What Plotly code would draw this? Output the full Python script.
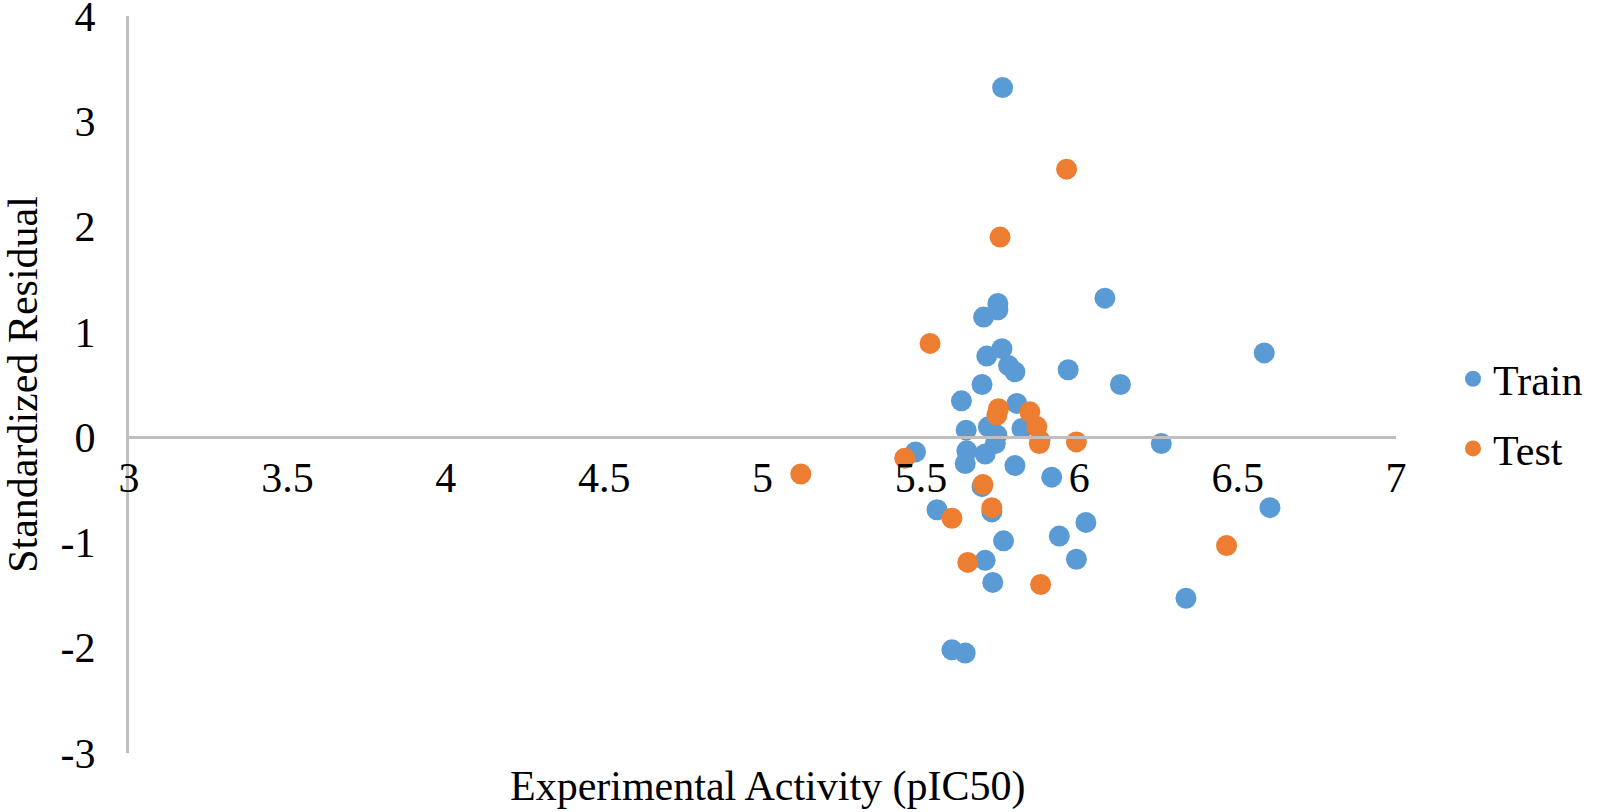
import plotly.graph_objects as go

train_x = [5.758, 6.081, 5.743, 5.743, 5.698, 5.756, 5.708, 5.777, 5.797, 5.965,
           6.130, 6.584, 5.693, 5.628, 5.803, 5.643, 5.713, 5.740, 5.819, 6.259,
           5.483, 5.645, 5.703, 5.735, 5.640, 5.797, 5.913, 5.693, 5.724, 5.551,
           6.021, 5.937, 5.761, 5.703, 5.991, 5.727, 6.337, 5.598, 5.640, 6.602]
train_y = [3.32, 1.32, 1.27, 1.21, 1.14, 0.84, 0.77, 0.68, 0.62, 0.64,
           0.50, 0.80, 0.50, 0.345, 0.32, 0.066, 0.098, 0.02, 0.082, -0.06,
           -0.14, -0.13, -0.16, -0.06, -0.25, -0.27, -0.38, -0.47, -0.71, -0.69,
           -0.81, -0.94, -0.985, -1.17, -1.16, -1.38, -1.53, -2.02, -2.05, -0.67]

test_x = [5.960, 5.750, 5.529, 5.745, 5.740, 5.844, 5.866, 5.876, 5.874,
          5.991, 5.121, 5.449, 5.696, 5.724, 5.598, 5.648, 5.878, 6.465]
test_y = [2.545, 1.90, 0.89, 0.27, 0.21, 0.24, 0.10, -0.03, -0.06,
          -0.045, -0.35, -0.20, -0.45, -0.67, -0.77, -1.19, -1.40, -1.03]

x_ticks = [3, 3.5, 4, 4.5, 5, 5.5, 6, 6.5, 7]
x_ticktext = ["3", "3.5", "4", "4.5", "5", "5.5", "6", "6.5", "7"]
y_ticks = [-3, -2, -1, 0, 1, 2, 3, 4]
y_ticktext = ["-3", "-2", "-1", "0", "1", "2", "3", "4"]

x_title = "Experimental Activity (pIC50)"
y_title = "Standardized Residual"

FONT = "Liberation Serif, Times New Roman, serif"
AXIS_GRAY = "#BFBFBF"

fig = go.Figure()
fig.add_trace(go.Scatter(x=train_x, y=train_y, mode="markers", name="Train",
                         legendgroup="train",
                         marker=dict(color="#5B9BD5", size=21)))
fig.add_trace(go.Scatter(x=test_x, y=test_y, mode="markers", name="Test",
                         legendgroup="test",
                         marker=dict(color="#ED7D31", size=21)))

fig.update_layout(
    width=1600, height=812,
    margin=dict(l=129, r=200, t=16, b=59),
    paper_bgcolor="white", plot_bgcolor="white",
    font=dict(family=FONT, size=42, color="black"),
    showlegend=True,
    legend=dict(x=1.045, y=0.46, xanchor="left", yanchor="middle",
                font=dict(size=42), itemsizing="trace", tracegroupgap=12),
    xaxis=dict(range=[3, 7], tickvals=x_ticks, ticktext=x_ticktext,
               anchor="free", position=3/7, automargin=False,
               showline=True, linecolor=AXIS_GRAY, linewidth=3,
               showgrid=False, zeroline=False, ticks="",
               ticklabelstandoff=2, ticklabeloverflow="allow"),
    yaxis=dict(range=[-3, 4], tickvals=y_ticks, ticktext=y_ticktext,
               automargin="left",
               showline=True, linecolor=AXIS_GRAY, linewidth=3,
               showgrid=False, zeroline=False, ticks="",
               ticklabelstandoff=22, ticklabeloverflow="allow",
               title=dict(text=y_title, font=dict(size=42), standoff=10)),
    annotations=[dict(text=x_title, xref="paper", yref="paper",
                      x=0.504, y=-0.046, xanchor="center", yanchor="middle",
                      showarrow=False, font=dict(size=42))],
)

fig.write_html("out.html", config={"displayModeBar": False},
               post_script="document.body.style.margin='0px';")
